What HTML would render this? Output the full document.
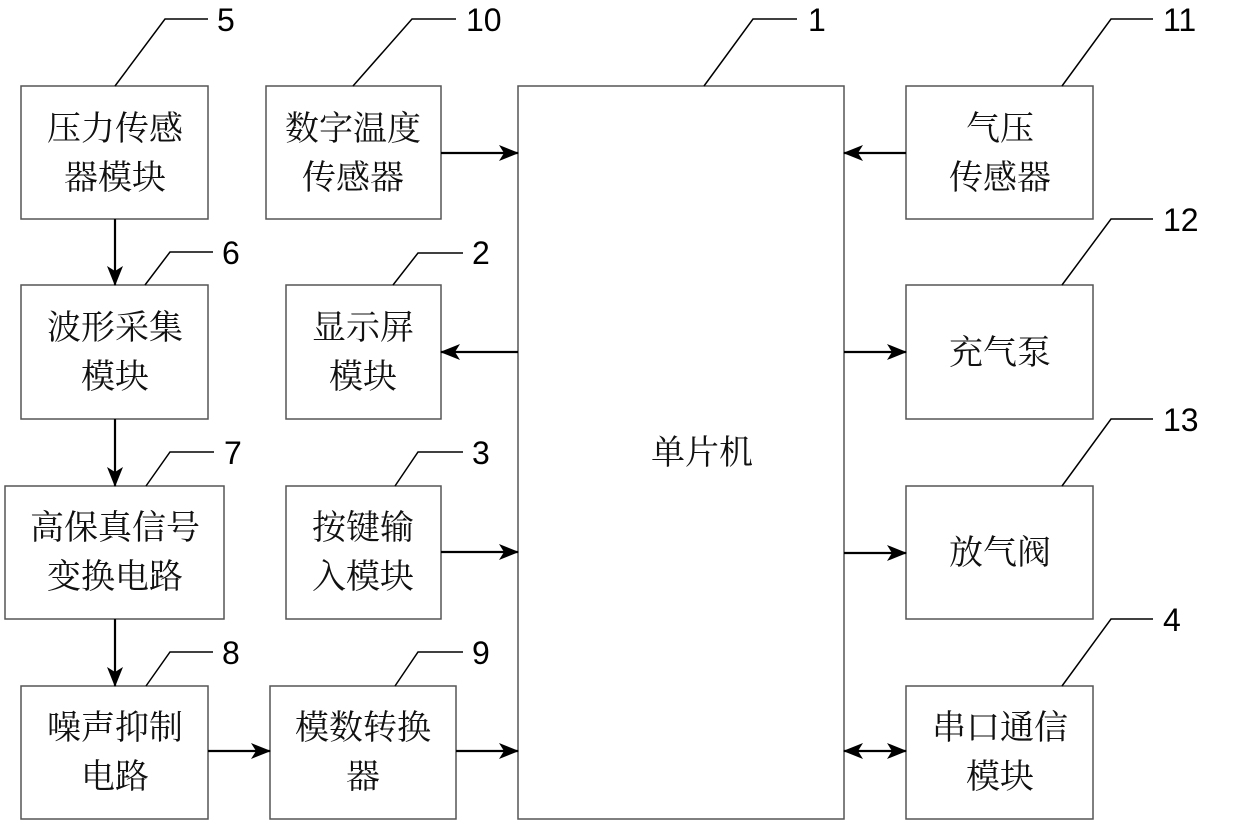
<!DOCTYPE html>
<html><head><meta charset="utf-8"><style>
html,body{margin:0;padding:0;background:#fff;}
</style></head><body>
<svg width="1240" height="827" viewBox="0 0 1240 827" xmlns="http://www.w3.org/2000/svg">
<defs>
<marker id="b" markerWidth="20" markerHeight="18" refX="19" refY="9" orient="auto-start-reverse" markerUnits="userSpaceOnUse">
<path d="M0,1 L20,9 L0,17 L5,9 z" fill="#000"/>
</marker>
</defs>
<g fill="#fff" stroke="#555" stroke-width="1.5">
<rect x="21" y="86" width="187" height="133"/>
<rect x="21" y="285" width="187" height="134"/>
<rect x="5" y="486" width="219" height="133"/>
<rect x="21" y="686" width="187" height="133"/>
<rect x="270" y="686" width="186" height="133"/>
<rect x="266" y="86" width="175" height="133"/>
<rect x="286" y="285" width="155" height="134"/>
<rect x="286" y="486" width="155" height="133"/>
<rect x="518" y="86" width="326" height="733"/>
<rect x="906" y="86" width="187" height="133"/>
<rect x="906" y="285" width="187" height="134"/>
<rect x="906" y="486" width="187" height="133"/>
<rect x="906" y="686" width="187" height="133"/>
</g>
<g fill="none" stroke="#000" stroke-width="1.5">
<polyline points="115,86 165,19 208,19"/>
<polyline points="353,86 412,19 456,19"/>
<polyline points="145,285 170,252 213,252"/>
<polyline points="393,285 418,253 463,253"/>
<polyline points="146,486 170,452 214,452"/>
<polyline points="395,486 418,452 463,452"/>
<polyline points="146,686 170,652 213,652"/>
<polyline points="395,686 418,652 463,652"/>
<polyline points="704,86 753,19 797,19"/>
<polyline points="1062,86 1111,19 1153,19"/>
<polyline points="1062,285 1111,219 1153,219"/>
<polyline points="1062,486 1111,419 1153,419"/>
<polyline points="1062,686 1111,619 1153,619"/>
</g>
<g stroke="#000" stroke-width="2.2" fill="none">
<line x1="115" y1="219" x2="115" y2="285" marker-end="url(#b)"/>
<line x1="115" y1="419" x2="115" y2="486" marker-end="url(#b)"/>
<line x1="115" y1="619" x2="115" y2="686" marker-end="url(#b)"/>
<line x1="208" y1="751" x2="270" y2="751" marker-end="url(#b)"/>
<line x1="456" y1="751" x2="518" y2="751" marker-end="url(#b)"/>
<line x1="441" y1="552" x2="518" y2="552" marker-end="url(#b)"/>
<line x1="441" y1="153" x2="518" y2="153" marker-end="url(#b)"/>
<line x1="518" y1="352" x2="441" y2="352" marker-end="url(#b)"/>
<line x1="906" y1="153" x2="844" y2="153" marker-end="url(#b)"/>
<line x1="844" y1="352" x2="906" y2="352" marker-end="url(#b)"/>
<line x1="844" y1="553" x2="906" y2="553" marker-end="url(#b)"/>
<line x1="844" y1="751" x2="906" y2="751" marker-start="url(#b)" marker-end="url(#b)"/>
</g>
<g font-family="Liberation Serif, Noto Serif CJK SC, serif" font-size="34" fill="#111" text-anchor="middle">
<text x="115" y="140">压力传感</text><text x="115" y="189">器模块</text>
<text x="115" y="339">波形采集</text><text x="115" y="388">模块</text>
<text x="115" y="539">高保真信号</text><text x="115" y="588">变换电路</text>
<text x="115" y="739">噪声抑制</text><text x="115" y="788">电路</text>
<text x="363" y="739">模数转换</text><text x="363" y="788">器</text>
<text x="353" y="140">数字温度</text><text x="353" y="189">传感器</text>
<text x="363" y="339">显示屏</text><text x="363" y="388">模块</text>
<text x="363" y="539">按键输</text><text x="363" y="588">入模块</text>
<text x="702" y="464">单片机</text>
<text x="1000" y="140">气压</text><text x="1000" y="189">传感器</text>
<text x="1000" y="364">充气泵</text>
<text x="1000" y="564">放气阀</text>
<text x="1000" y="739">串口通信</text><text x="1000" y="788">模块</text>
</g>
<g font-family="Liberation Sans, sans-serif" font-size="32" fill="#000">
<text x="217" y="31">5</text>
<text x="466" y="31">10</text>
<text x="222" y="264">6</text>
<text x="472" y="264">2</text>
<text x="224" y="464">7</text>
<text x="472" y="464">3</text>
<text x="222" y="664">8</text>
<text x="472" y="664">9</text>
<text x="808" y="31">1</text>
<text x="1163" y="31">11</text>
<text x="1163" y="231">12</text>
<text x="1163" y="431">13</text>
<text x="1163" y="631">4</text>
</g>
</svg>
</body></html>
